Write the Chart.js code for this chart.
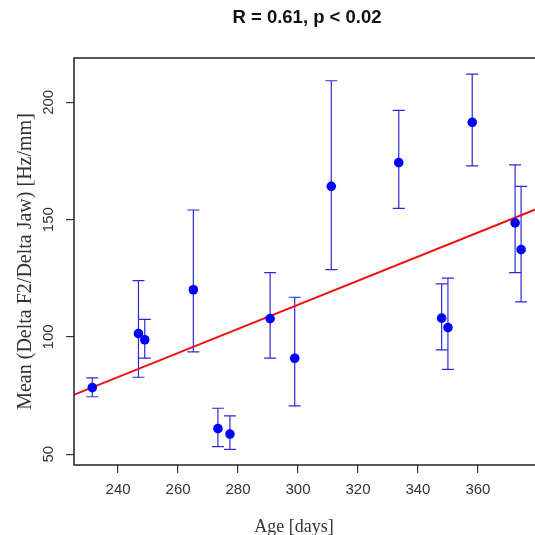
<!DOCTYPE html>
<html>
<head>
<meta charset="utf-8">
<script src="https://cdn.jsdelivr.net/npm/chart.js@4"></script>
<style>
  html, body { margin: 0; padding: 0; background: #fff; overflow: hidden; }
  #wrap { width: 545px; height: 535px; }
</style>
</head>
<body>
<div id="wrap"><canvas id="ageChart"></canvas></div>
<script>
// values
const ages    = [231.4, 246.8, 248.9, 265.1, 273.3, 277.3, 290.7, 298.9, 311.1, 333.6, 358.1, 347.9, 350.0, 372.4, 374.4];
const means   = [78.4, 101.4, 98.8, 120.1, 60.9, 58.6, 107.8, 90.9, 164.2, 174.3, 191.5, 108.0, 104.0, 148.6, 137.2];
const errHigh = [82.5, 124.0, 107.5, 154.1, 69.6, 66.3, 127.4, 116.9, 209.2, 196.6, 212.0, 122.6, 125.1, 173.3, 164.2];
const errLow  = [74.5, 82.8, 91.0, 93.6, 53.2, 52.1, 91.0, 70.6, 128.7, 154.8, 172.9, 94.5, 86.2, 127.4, 114.9];

// regression line end points
const fitX = [225, 381];
const fitY = [75.2, 155.3];

const xTicks = [240, 260, 280, 300, 320, 340, 360];
const yTicks = [50, 100, 150, 200];

const mainTitle = 'R = 0.61, p < 0.02';
const xTitle = 'Age [days]';
const yTitle = 'Mean (Delta F2/Delta Jaw) [Hz/mm]';

const sans = '"Liberation Sans", Arial, sans-serif';
const serif = '"Liberation Serif", "Times New Roman", serif';

// error bars drawn under the points
const errorBars = {
  id: 'errorBars',
  beforeDatasetsDraw(chart) {
    const ctx = chart.ctx;
    const xs = chart.scales.x, ys = chart.scales.y;
    ctx.save();
    ctx.strokeStyle = '#2b2bd6';
    ctx.lineWidth = 1.2;
    for (let i = 0; i < ages.length; i++) {
      const px = xs.getPixelForValue(ages[i]);
      const top = ys.getPixelForValue(errHigh[i]);
      const bot = ys.getPixelForValue(errLow[i]);
      ctx.beginPath();
      ctx.moveTo(px, top); ctx.lineTo(px, bot);
      ctx.moveTo(px - 6, top); ctx.lineTo(px + 6, top);
      ctx.moveTo(px - 6, bot); ctx.lineTo(px + 6, bot);
      ctx.stroke();
    }
    ctx.restore();
  }
};

// box, rotated y labels and titles, R style
const frame = {
  id: 'frame',
  afterDraw(chart) {
    const ctx = chart.ctx;
    const a = chart.chartArea;
    const ys = chart.scales.y;
    ctx.save();
    ctx.strokeStyle = '#222';
    ctx.lineWidth = 1.5;
    ctx.strokeRect(a.left, a.top, a.right - a.left, a.bottom - a.top);

    ctx.fillStyle = '#333';
    ctx.font = '15px ' + sans;
    ctx.textAlign = 'center';
    ctx.textBaseline = 'middle';
    yTicks.forEach(v => {
      ctx.save();
      ctx.translate(a.left - 25, ys.getPixelForValue(v));
      ctx.rotate(-Math.PI / 2);
      ctx.fillText(String(v), 0, 0);
      ctx.restore();
    });

    ctx.fillStyle = '#111';
    ctx.font = 'bold 18.5px ' + sans;
    ctx.fillText(mainTitle, (a.left + a.right) / 2, 18);

    ctx.fillStyle = '#333';
    ctx.font = '18px ' + serif;
    ctx.fillText(xTitle, a.left + 220, a.bottom + 62);

    ctx.save();
    ctx.font = '20px ' + serif;
    ctx.translate(a.left - 48, (a.top + a.bottom) / 2);
    ctx.rotate(-Math.PI / 2);
    ctx.fillText(yTitle, 0, 0);
    ctx.restore();
    ctx.restore();
  }
};

new Chart(document.getElementById('ageChart'), {
  type: 'scatter',
  data: {
    datasets: [
      {
        label: 'Mean',
        data: ages.map((x, i) => ({ x: x, y: means[i] })),
        backgroundColor: '#0000ff',
        borderWidth: 0,
        pointRadius: 4.8
      },
      {
        type: 'line',
        label: 'Fit',
        data: fitX.map((x, i) => ({ x: x, y: fitY[i] })),
        borderColor: '#ee1111',
        borderWidth: 2,
        pointRadius: 0,
        fill: false
      }
    ]
  },
  options: {
    responsive: true,
    maintainAspectRatio: false,
    animation: false,
    layout: { padding: { top: 58, right: 5, left: 0, bottom: 0 } },
    plugins: {
      legend: { display: false },
      tooltip: { enabled: false }
    },
    scales: {
      x: {
        type: 'linear',
        min: 225.3,
        max: 380.7,
        afterBuildTicks: axis => { axis.ticks = xTicks.map(v => ({ value: v })); },
        afterFit: axis => { axis.height = 70; },
        grid: { drawOnChartArea: false, drawTicks: true, tickLength: 8, color: '#333', lineWidth: 1.2 },
        border: { display: false },
        ticks: { color: '#333', font: { family: sans, size: 15 }, padding: 8, maxRotation: 0 }
      },
      y: {
        type: 'linear',
        min: 45.4,
        max: 218.9,
        afterBuildTicks: axis => { axis.ticks = yTicks.map(v => ({ value: v })); },
        afterFit: axis => { axis.width = 74; },
        grid: { drawOnChartArea: false, drawTicks: true, tickLength: 8, color: '#333', lineWidth: 1.2 },
        border: { display: false },
        ticks: { display: false }
      }
    }
  },
  plugins: [errorBars, frame]
});
</script>
</body>
</html>
